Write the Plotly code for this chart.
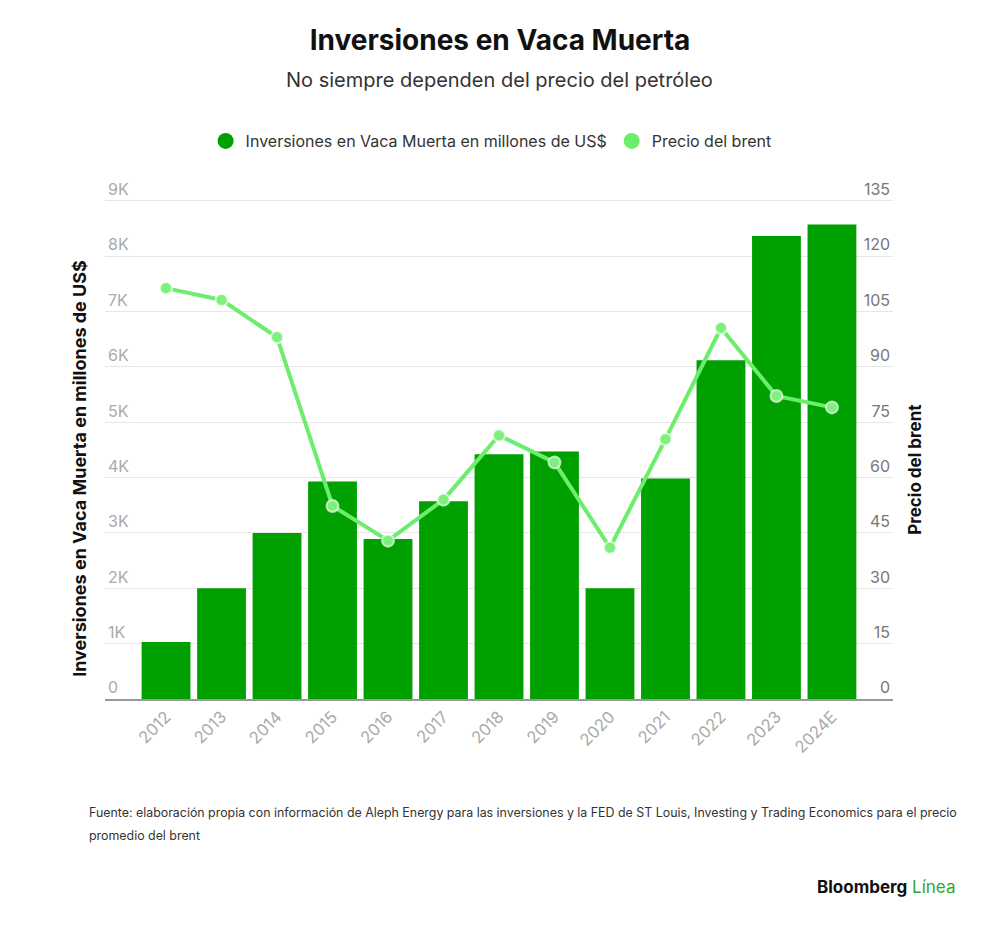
import plotly.graph_objects as go

years = ["2012", "2013", "2014", "2015", "2016", "2017", "2018", "2019", "2020", "2021", "2022", "2023", "2024E"]
inversiones = [1030, 2000, 3000, 3930, 2890, 3570, 4420, 4470, 2000, 3980, 6120, 8360, 8570]
brent = [111.3, 108.1, 98.0, 52.3, 42.9, 54.0, 71.4, 64.1, 41.0, 70.4, 100.5, 82.1, 79.0]

left_tickvals = [0, 1000, 2000, 3000, 4000, 5000, 6000, 7000, 8000, 9000]
left_ticktext = ["0", "1K", "2K", "3K", "4K", "5K", "6K", "7K", "8K", "9K"]
right_tickvals = [0, 15, 30, 45, 60, 75, 90, 105, 120, 135]

BAR = "#00a000"
LINE = "#6cee6c"
FONT = "Inter"
PH = 500.3  # plot height px
PW = 788    # plot width px
YMAX = 9030
Y2MAX = 135 * YMAX / 9000

fig = go.Figure()
fig.add_trace(go.Bar(
    x=years, y=inversiones, name="Inversiones en Vaca Muerta en millones de US$",
    marker=dict(color=BAR, line=dict(width=0)), showlegend=False,
))
fig.add_trace(go.Scatter(
    x=years, y=brent, name="Precio del brent", yaxis="y2", mode="lines+markers",
    line=dict(color=LINE, width=4),
    marker=dict(size=12, color="#7ef07e", line=dict(color="rgba(255,255,255,0.65)", width=2)),
    showlegend=False,
))
# legend entries (circle symbols)
fig.add_trace(go.Scatter(x=[None], y=[None], mode="markers", name="Inversiones en Vaca Muerta en millones de US$",
                         marker=dict(size=17, color=BAR)))
fig.add_trace(go.Scatter(x=[None], y=[None], mode="markers", name="Precio del brent",
                         marker=dict(size=17, color=LINE)))

fig.update_layout(
    width=1000, height=932,
    margin=dict(l=105, r=107, t=199, b=233),
    paper_bgcolor="white", plot_bgcolor="white",
    font=dict(family=FONT, color="#333"),
    bargap=0.12,
    title=dict(
        text="<b>Inversiones en Vaca Muerta</b>",
        x=0.5, xanchor="center", y=1 - 40 / 932, yanchor="middle",
        font=dict(family=FONT, size=28, color="#111"),
    ),
    legend=dict(
        orientation="h", x=0.49, xanchor="center", y=1 - 141 / 932, yanchor="middle",
        yref="container", font=dict(family=FONT, size=16, color="#333"),
        itemsizing="trace", itemwidth=30,
    ),
    xaxis=dict(
        type="category", range=[-1.1, 13.1], tickangle=-45,
        tickfont=dict(family=FONT, size=16.5, color="#aaaaaa"),
        showline=True, linecolor="#999", linewidth=1.5, showgrid=False,
        ticks="", fixedrange=True,
    ),
    yaxis=dict(
        range=[0, YMAX], tickvals=left_tickvals, ticktext=left_ticktext,
        ticklabelposition="inside top", ticklabeloverflow="allow",
        tickfont=dict(family=FONT, size=16, color="#aaaaaa"),
        gridcolor="#e6e6e6", gridwidth=1, zeroline=False, showline=False,
    ),
    yaxis2=dict(
        range=[0, Y2MAX], tickvals=right_tickvals, overlaying="y", side="right",
        ticklabelposition="inside top", ticklabeloverflow="allow",
        tickfont=dict(family=FONT, size=16, color="#777777"),
        showgrid=False, zeroline=False, showline=False,
    ),
)

fig.add_annotation(
    text="No siempre dependen del precio del petróleo", xref="paper", yref="paper",
    x=0.5, y=1 + (199 - 80) / PH, xanchor="center", yanchor="middle", showarrow=False,
    font=dict(family=FONT, size=20, color="#333"),
)
fig.add_annotation(
    text="<b>Inversiones en Vaca Muerta en millones de US$</b>", xref="paper", yref="paper",
    x=(80 - 105) / PW, y=(699.3 - 469) / PH, xanchor="center", yanchor="middle",
    textangle=-90, showarrow=False, font=dict(family=FONT, size=18, color="#111"),
)
fig.add_annotation(
    text="<b>Precio del brent</b>", xref="paper", yref="paper",
    x=(915 - 105) / PW, y=(699.3 - 470) / PH, xanchor="center", yanchor="middle",
    textangle=-90, showarrow=False, font=dict(family=FONT, size=17, color="#111"),
)
fig.add_annotation(
    text="Fuente: elaboración propia con información de Aleph Energy para las inversiones y la FED de ST Louis, Investing y Trading Economics para el precio",
    xref="paper", yref="paper", x=(87 - 105) / PW, y=(699.3 - 813) / PH,
    xanchor="left", yanchor="middle", align="left", showarrow=False,
    font=dict(family=FONT, size=12.4, color="#333"),
)
fig.add_annotation(
    text="promedio del brent",
    xref="paper", yref="paper", x=(87 - 105) / PW, y=(699.3 - 836) / PH,
    xanchor="left", yanchor="middle", align="left", showarrow=False,
    font=dict(family=FONT, size=12.4, color="#333"),
)
fig.add_annotation(
    text="<b>Bloomberg</b> <span style='color:#2eaa2e'>Línea</span>",
    xref="paper", yref="paper", x=(958 - 105) / PW, y=(699.3 - 887) / PH,
    xanchor="right", yanchor="middle", showarrow=False,
    font=dict(family=FONT, size=17, color="#111"),
)

fig.write_html("out.html", config={"displayModeBar": False},
               post_script="document.body.style.margin='0';")
